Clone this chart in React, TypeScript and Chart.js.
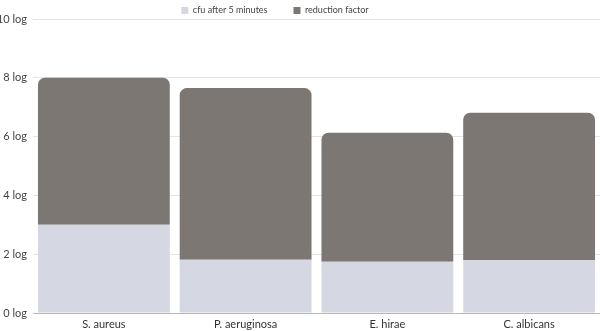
import React, { useEffect, useRef } from "react";
import { Chart, registerables } from "chart.js";

Chart.register(...registerables);

const categories = ["S. aureus", "P. aeruginosa", "E. hirae", "C. albicans"];
const cfuAfter5Minutes = [3.0, 1.81, 1.74, 1.79];
const reductionFactor = [5.0, 5.84, 4.39, 5.02];
const seriesLabels = ["cfu after 5 minutes", "reduction factor"];
const yTickSuffix = " log";

const shiftLegend = {
  id: "shiftLegend",
  afterLayout(chart: any) {
    const lg = chart.legend;
    if (!lg) return;
    lg.left -= 25;
    lg.right -= 25;
    lg.top -= 20;
  },
};

export default function App() {
  const ref = useRef<HTMLCanvasElement | null>(null);
  useEffect(() => {
    if (!ref.current) return;
    const font = { family: "Lato", size: 11 };
    const chart = new Chart(ref.current, {
      type: "bar",
      data: {
        labels: categories,
        datasets: [
          {
            label: seriesLabels[0],
            data: cfuAfter5Minutes,
            backgroundColor: "#d5d8e2",
            borderWidth: 0,
            barPercentage: 0.93,
            categoryPercentage: 1,
          },
          {
            label: seriesLabels[1],
            data: reductionFactor,
            backgroundColor: "#7d7774",
            borderWidth: 0,
            borderRadius: { topLeft: 7, topRight: 7, bottomLeft: 0, bottomRight: 0 },
            borderSkipped: false,
            barPercentage: 0.93,
            categoryPercentage: 1,
          },
        ],
      },
      options: {
        animation: false,
        responsive: true,
        maintainAspectRatio: false,
        layout: { padding: 0 },
        plugins: {
          legend: {
            position: "top",
            maxHeight: 19,
            labels: {
              boxWidth: 7,
              boxHeight: 7,
              padding: 26,
              color: "#444",
              font: { family: "Lato", size: 9 },
            },
          },
          tooltip: { enabled: false },
        },
        scales: {
          x: {
            stacked: true,
            grid: { display: false, drawTicks: false },
            border: { display: true, color: "#b8b8b8" },
            ticks: { color: "#333", font, padding: 5 },
            afterFit: (s: any) => {
              s.height = 18;
            },
          },
          y: {
            stacked: true,
            min: 0,
            max: 10,
            grid: { color: "#e6e4e1", drawTicks: false },
            border: { display: false },
            ticks: {
              stepSize: 2,
              color: "#444",
              font,
              padding: 6,
              callback: (v: any) => v + yTickSuffix,
            },
            afterFit: (s: any) => {
              s.width = 33;
            },
          },
        },
      },
      plugins: [shiftLegend],
    } as any);
    return () => chart.destroy();
  }, []);
  return (
    <div style={{ position: "absolute", left: 0, top: 0, width: 600, height: 331, background: "#fff" }}>
      <canvas ref={ref} />
    </div>
  );
}
